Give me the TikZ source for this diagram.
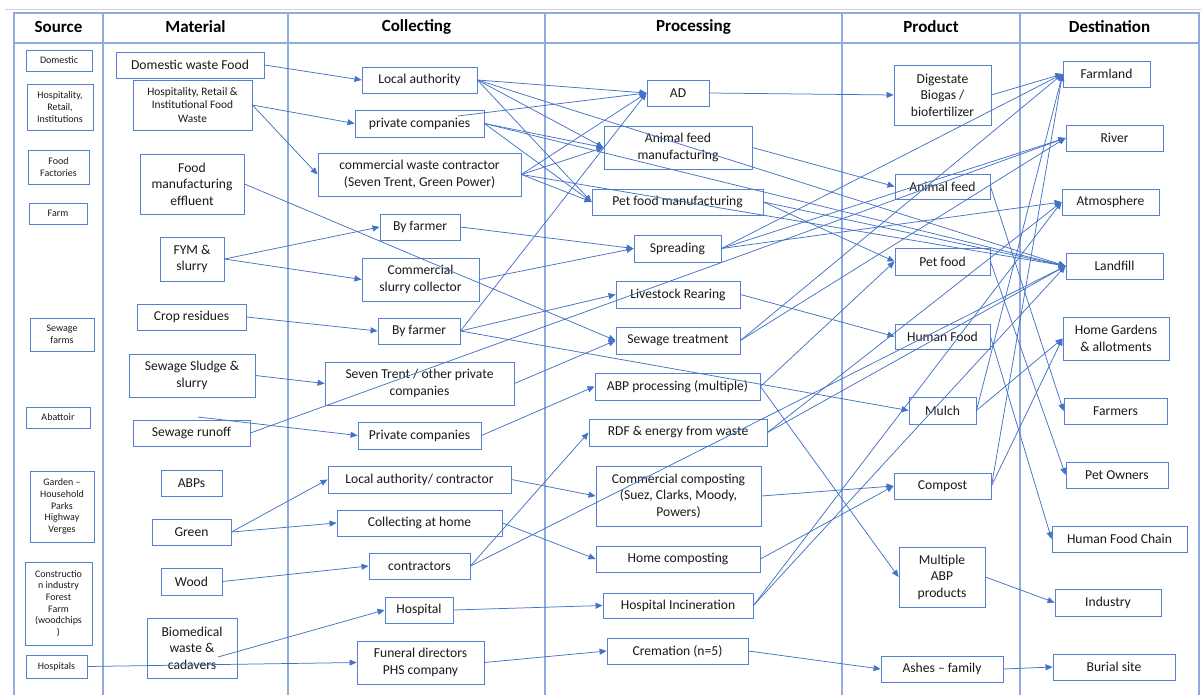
\documentclass[tikz,border=0pt]{standalone}
\usepackage{fontspec}
\setmainfont{Carlito}
\usetikzlibrary{arrows.meta}
\definecolor{tbl}{RGB}{143,172,222}
\definecolor{bx}{RGB}{84,130,206}
\definecolor{ln}{RGB}{68,114,196}
\definecolor{txt}{RGB}{25,25,25}
\newcommand\nfont{\fontsize{13.6}{16.6}\selectfont}
\newcommand\sfont{\fontsize{10}{11.7}\selectfont}
\newcommand\mfont{\fontsize{11.4}{13.7}\selectfont}
\newcommand\hfont{\fontsize{17}{20}\selectfont\bfseries}
\newcommand\B[7][]{\node[box,minimum width=#5pt,minimum height=#6pt,#1] (#2) at (#3,#4) {#7};}
\begin{document}
\begin{tikzpicture}[x=1pt,y=-1pt,
  box/.style={draw=bx,line width=0.9pt,inner sep=0pt,align=center,text=txt,font=\nfont},
  sbox/.style={font=\sfont},
  tline/.style={draw=tbl,line width=1.6pt},
  hdr/.style={font=\hfont,text=black,inner sep=0pt},
  conn/.style={draw=ln,line width=0.75pt,-{Triangle[length=7pt,width=6pt]}}]
\useasboundingbox (0,0) rectangle (1201,695);
% top gray rule
\draw[draw=black!18,line width=0.8pt] (5,9) -- (1201,9);
% table
\draw[tline] (14,695) -- (14,13) -- (1199,13) -- (1199,695);
\draw[tline] (14,43) -- (1199,43);
\foreach \x in {103,288,545,842,1020} \draw[tline] (\x,13) -- (\x,695);
% headers
\node[hdr] (h1) at (58.5,27) {Source};
\node[hdr] (h2) at (195.5,27) {Material};
\node[hdr] (h3) at (416.5,27) {Collecting};
\node[hdr] (h4) at (693.5,27) {Processing};
\node[hdr] (h5) at (931,27) {Product};
\node[hdr] (h6) at (1109.5,27) {Destination};
% Source
\B[sbox]{s1}{59}{60.5}{66}{21}{Domestic}
\B[sbox]{s2}{60}{107}{66}{46}{Hospitality,\\Retail,\\Institutions}
\B[sbox]{s3}{58.5}{167}{61}{34}{Food\\Factories}
\B[sbox]{s4}{58}{213.5}{58}{21}{Farm}
\B[sbox]{s5}{62}{334.5}{64}{33}{Sewage\\farms}
\B[sbox]{s6}{58}{417.5}{64}{21}{Abattoir}
\B[sbox]{s7}{62}{506.5}{64}{71}{Garden –\\Household\\Parks\\Highway\\Verges}
\B[sbox]{s8}{58.5}{603.5}{67}{83}{Constructio\\n industry\\Forest\\Farm\\(woodchips\\)}
\B[sbox]{s9}{56.5}{666.5}{61}{23}{Hospitals}
% Material
\B{m1}{190}{65}{148}{26}{Domestic waste Food}
\B[font=\mfont]{m2}{192.5}{105}{119}{50}{Hospitality, Retail \&\\Institutional Food\\Waste}
\B{m3}{192}{184}{104}{60}{Food\\manufacturing\\effluent}
\B{m4}{192}{259}{64}{44}{FYM \&\\slurry}
\B{m5}{191.5}{317}{109}{26}{Crop residues}
\B{m6}{192}{375.5}{126}{43}{Sewage Sludge \&\\slurry}
\B{m7}{191.5}{433}{117}{26}{Sewage runoff}
\B{m8}{191.5}{483}{61}{26}{ABPs}
\B{m9}{191.5}{532}{79}{26}{Green}
\B{m10}{191.5}{581.5}{61}{27}{Wood}
\B{m11}{192}{648}{90}{60}{Biomedical\\waste \&\\cadavers}
% Collecting
\B{c1}{419.5}{80}{115}{26}{Local authority}
\B{c2}{419.5}{123.5}{129}{27}{private companies}
\B{c3}{419.5}{174.5}{203}{43}{commercial waste contractor\\(Seven Trent, Green Power)}
\B{c4}{420}{227}{80}{26}{By farmer}
\B{c5}{420.5}{279.5}{117}{43}{Commercial\\slurry collector}
\B{c6}{419}{331}{82}{26}{By farmer}
\B{c7}{419.5}{383.5}{189}{43}{Seven Trent / other private\\companies}
\B{c8}{419.5}{435.5}{123}{27}{Private companies}
\B{c9}{419.5}{479.5}{183}{27}{Local authority/ contractor}
\B{c10}{419.5}{523}{165}{26}{Collecting at home}
\B{c11}{419.5}{566}{101}{26}{contractors}
\B{c12}{419}{610}{68}{26}{Hospital}
\B{c13}{420.5}{662.5}{127}{43}{Funeral directors\\PHS company}
% Processing
\B{p1}{678}{93}{62}{26}{AD}
\B{p2}{678}{147.5}{148}{43}{Animal feed\\manufacturing}
\B{p3}{677.5}{202}{171}{26}{Pet food manufacturing}
\B{p4}{677.5}{248.5}{87}{27}{Spreading}
\B{p5}{678}{294.5}{124}{27}{Livestock Rearing}
\B{p6}{678}{340.5}{124}{27}{Sewage treatment}
\B{p7}{677.5}{386.5}{165}{27}{ABP processing (multiple)}
\B{p8}{678}{432.5}{178}{27}{RDF \& energy from waste}
\B{p9}{678.5}{496}{165}{60}{Commercial composting\\(Suez, Clarks, Moody,\\Powers)}
\B{p10}{678}{559}{164}{26}{Home composting}
\B{p11}{678}{605.5}{150}{25}{Hospital Incineration}
\B{p12}{677.5}{651}{141}{26}{Cremation (n=5)}
% Product
\B{r1}{942.5}{95}{97}{60}{Digestate\\Biogas /\\biofertilizer}
\B{r2}{942.5}{186.5}{95}{25}{Animal feed}
\B{r3}{942.5}{261.5}{95}{27}{Pet food}
\B{r4}{942.5}{336.5}{95}{25}{Human Food}
\B{r5}{942.5}{410.5}{67}{27}{Mulch}
\B{r6}{942.5}{486}{97}{26}{Compost}
\B{r7}{942}{577}{86}{60}{Multiple\\ABP\\products}
\B{r8}{942}{669}{122}{26}{Ashes – family}
% Destination
\B{d1}{1106.5}{74}{87}{26}{Farmland}
\B{d2}{1114.5}{138}{97}{26}{River}
\B{d3}{1110.5}{202}{97}{26}{Atmosphere}
\B{d4}{1114.5}{266}{97}{26}{Landfill}
\B{d5}{1116}{338.5}{106}{43}{Home Gardens\\\& allotments}
\B{d6}{1115.5}{411}{103}{26}{Farmers}
\B{d7}{1117}{475}{102}{26}{Pet Owners}
\B{d8}{1119.5}{539}{135}{26}{Human Food Chain}
\B{d9}{1108}{602.5}{106}{27}{Industry}
\B{d10}{1114}{667}{122}{26}{Burial site}
% free line ends
\coordinate (ab) at (198,417);
\coordinate (bm) at (218,657);
\coordinate (pcs) at (458,116);
% Material -> Collecting
\draw[conn] (m1.east) -- (c1.west);
\draw[conn] (m2.east) -- (c2.west);
\draw[conn] (m2.east) -- (c3.west);
\draw[conn] (m3.east) -- (p6.west);
\draw[conn] (m4.east) -- (c4.west);
\draw[conn] (m4.east) -- (c5.west);
\draw[conn] (m5.east) -- (c6.west);
\draw[conn] (m6.east) -- (c7.west);
\draw[conn] (m7.east) -- (d2.west);
\draw[conn] (ab) -- (c8.west);
\draw[conn] (m9.east) -- (c9.west);
\draw[conn] (m9.east) -- (c10.west);
\draw[conn] (m10.east) -- (c11.west);
\draw[conn] (bm) -- (c12.west);
\draw[conn] (s9.east) -- (c13.west);
% Collecting -> Processing
\draw[conn] (c1.east) -- (p1.west);
\draw[conn] (c1.east) -- (p2.west);
\draw[conn] (c1.east) -- (p3.west);
\draw[conn] (c1.east) -- (d4.west);
\draw[conn] (pcs) -- (p1.west);
\draw[conn] (c2.east) -- (p2.west);
\draw[conn] (c2.east) -- (p3.west);
\draw[conn] (c2.east) -- (d4.west);
\draw[conn] (c3.east) -- (p1.west);
\draw[conn] (c3.east) -- (p2.west);
\draw[conn] (c3.east) -- (p3.west);
\draw[conn] (c3.east) -- (d4.west);
\draw[conn] (c4.east) -- (p4.west);
\draw[conn] (c5.east) -- (p4.west);
\draw[conn] (c6.east) -- (p1.west);
\draw[conn] (c6.east) -- (p5.west);
\draw[conn] (c6.east) -- (r5.west);
\draw[conn] (c7.east) -- (p6.west);
\draw[conn] (c8.east) -- (p7.west);
\draw[conn] (c9.east) -- (p9.west);
\draw[conn] (c10.east) -- (p10.west);
\draw[conn] (c11.east) -- (p8.west);
\draw[conn] (c11.east) -- (d4.west);
\draw[conn] (c12.east) -- (p11.west);
\draw[conn] (c13.east) -- (p12.west);
% Processing -> Product / Destination
\draw[conn] (p1.east) -- (r1.west);
\draw[conn] (p2.east) -- (r2.west);
\draw[conn] (p3.east) -- (r3.west);
\draw[conn] (p3.east) -- (d4.west);
\draw[conn] (p4.east) -- (d1.west);
\draw[conn] (p4.east) -- (d2.west);
\draw[conn] (p4.east) -- (d3.west);
\draw[conn] (p5.east) -- (r4.west);
\draw[conn] (p6.east) -- (d1.west);
\draw[conn] (p6.east) -- (d2.west);
\draw[conn] (p7.east) -- (r7.west);
\draw[conn] (p7.east) -- (r3.west);
\draw[conn] (p8.east) -- (d3.west);
\draw[conn] (p8.east) -- (d4.west);
\draw[conn] (p9.east) -- (r6.west);
\draw[conn] (p10.east) -- (r6.west);
\draw[conn] (p11.east) -- (d3.west);
\draw[conn] (p11.east) -- (d4.west);
\draw[conn] (p12.east) -- (r8.west);
% Product -> Destination
\draw[conn] (r1.east) -- (d1.west);
\draw[conn] (r2.east) -- (d6.west);
\draw[conn] (r3.east) -- (d7.west);
\draw[conn] (r4.east) -- (d8.west);
\draw[conn] (r5.east) -- (d5.west);
\draw[conn] (r5.east) -- (d1.west);
\draw[conn] (r6.east) -- (d1.west);
\draw[conn] (r6.east) -- (d5.west);
\draw[conn] (r7.east) -- (d9.west);
\draw[conn] (r8.east) -- (d10.west);
\end{tikzpicture}
\end{document}
